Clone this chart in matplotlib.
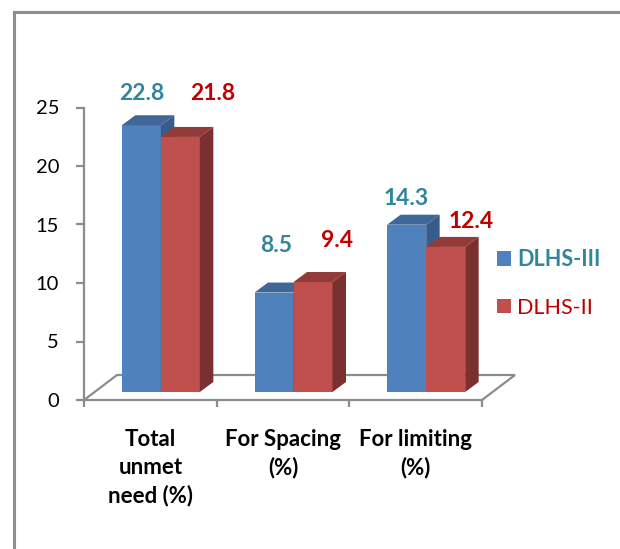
import matplotlib
matplotlib.use("Agg")
import matplotlib.pyplot as plt
from matplotlib.patches import Polygon, Patch
from matplotlib.lines import Line2D

# ---- data -------------------------------------------------------------
categories = ["Total\nunmet\nneed (%)", "For Spacing\n(%)", "For limiting\n(%)"]
series_names = ["DLHS-III", "DLHS-II"]
dlhs3 = [22.8, 8.5, 14.3]
dlhs2 = [21.8, 9.4, 12.4]
y_ticks = [0, 5, 10, 15, 20, 25]

# ---- styling ----------------------------------------------------------
plt.rcParams['font.family'] = ['Lato', 'DejaVu Sans']
GRID_GREY = '#8C8C8C'
series_styles = [
    # front, top, side, label colour, label weight
    dict(front='#4F81BD', top='#3F6797', side='#385D8A', text='#31859C', weight='bold'),
    dict(front='#C0504D', top='#923B39', side='#7A302E', text='#C00000', weight='normal'),
]
value_label_weight = 'bold'
# per-label offsets (px) from the centre of each bar's top edge
label_offsets = [
    [(0, 32), (2.5, 47), (0, 26)],
    [(32, 43), (24.5, 42), (25, 25)],
]

W, H, DPI = 620, 549, 100
fig = plt.figure(figsize=(W / DPI, H / DPI), dpi=DPI)
fig.patch.set_facecolor('white')

# front plane of the 3-D box
ax_left, ax_right, ax_bottom, ax_top = 84, 482, 400, 107.5
ax = fig.add_axes([ax_left / W, (H - ax_bottom) / H,
                   (ax_right - ax_left) / W, (ax_bottom - ax_top) / H])
ax.set_xlim(0, len(categories))
ax.set_ylim(0, 25)
ax.patch.set_visible(False)

px_x = (ax_right - ax_left) / len(categories)
px_y = (ax_bottom - ax_top) / 25


def dx(p):
    return p / px_x


def dy(p):
    return p / px_y


# depth offsets
floor_ddx, floor_ddy = dx(33), dy(25)      # front edge -> back edge of floor
plane_dx, plane_dy = dx(10.5), dy(8)       # front edge -> front face of bars
bar_ddx, bar_ddy = dx(13.5), dy(10)        # bar depth
bar_w = dx(39)

# floor outline
n = len(categories)
ax.plot([0, floor_ddx, n + floor_ddx, n], [0, floor_ddy, floor_ddy, 0],
        color=GRID_GREY, lw=1.6, clip_on=False, zorder=1, solid_joinstyle='miter')

# 3-D bars
for s, (values, st) in enumerate(zip([dlhs3, dlhs2], series_styles)):
    for i, v in enumerate(values):
        x0 = i + 0.5 + plane_dx - bar_w + s * bar_w
        b = plane_dy
        z = 3 + s
        ax.bar(x0, v, width=bar_w, bottom=b, align='edge', color=st['front'],
               edgecolor='none', zorder=z, clip_on=False)
        top = [(x0, b + v), (x0 + bar_w, b + v),
               (x0 + bar_w + bar_ddx, b + v + bar_ddy), (x0 + bar_ddx, b + v + bar_ddy)]
        side = [(x0 + bar_w, b), (x0 + bar_w + bar_ddx, b + bar_ddy),
                (x0 + bar_w + bar_ddx, b + v + bar_ddy), (x0 + bar_w, b + v)]
        ax.add_patch(Polygon(top, closed=True, facecolor=st['top'], edgecolor='none',
                             zorder=z, clip_on=False))
        ax.add_patch(Polygon(side, closed=True, facecolor=st['side'], edgecolor='none',
                             zorder=z, clip_on=False))
        ox, oy = label_offsets[s][i]
        ax.annotate(f"{v}", xy=(x0 + bar_w / 2, b + v), xytext=(ox * 0.72, oy * 0.72),
                    textcoords='offset points', ha='center', va='center',
                    color=st['text'], fontsize=16.5, fontweight=value_label_weight,
                    zorder=6, annotation_clip=False)

# axes
for side_name in ['top', 'right']:
    ax.spines[side_name].set_visible(False)
for side_name in ['left', 'bottom']:
    ax.spines[side_name].set_color(GRID_GREY)
    ax.spines[side_name].set_linewidth(1.6)
ax.set_yticks(y_ticks)
ax.set_yticklabels([str(t) for t in y_ticks], fontsize=14.5)
ax.set_xticks(range(n + 1))
ax.set_xticklabels([''] * (n + 1))
ax.tick_params(axis='y', direction='out', length=6, width=1.6, color=GRID_GREY, pad=12)
ax.tick_params(axis='x', direction='out', length=5, width=1.6, color=GRID_GREY)

for i, cat in enumerate(categories):
    ax.annotate(cat, xy=(i + 0.5, 0), xytext=(0, -29 * 0.72), textcoords='offset points',
                ha='center', va='top', fontsize=16, fontweight='bold',
                linespacing=1.4, annotation_clip=False)

# legend
handles = [Patch(facecolor=st['front'], edgecolor='none') for st in series_styles]
leg = fig.legend(handles, series_names, loc='upper left',
                 bbox_to_anchor=(497 / W, 1 - 249 / H), frameon=False,
                 fontsize=15.5, handlelength=0.65, handleheight=0.65,
                 handletextpad=0.3, labelspacing=1.28, borderpad=0, borderaxespad=0)
for txt, st in zip(leg.get_texts(), series_styles):
    txt.set_color(st['text'])
    txt.set_fontweight(st['weight'])

# chart frame
frame_kw = dict(transform=fig.transFigure, color='#8E8E8E', lw=2.2)
fig.add_artist(Line2D([13.5 / W, 13.5 / W], [0, 1 - 11.5 / H], **frame_kw))
fig.add_artist(Line2D([13.5 / W, 1], [1 - 11.5 / H, 1 - 11.5 / H], **frame_kw))

fig.savefig('out.png', dpi=DPI, facecolor='white')
